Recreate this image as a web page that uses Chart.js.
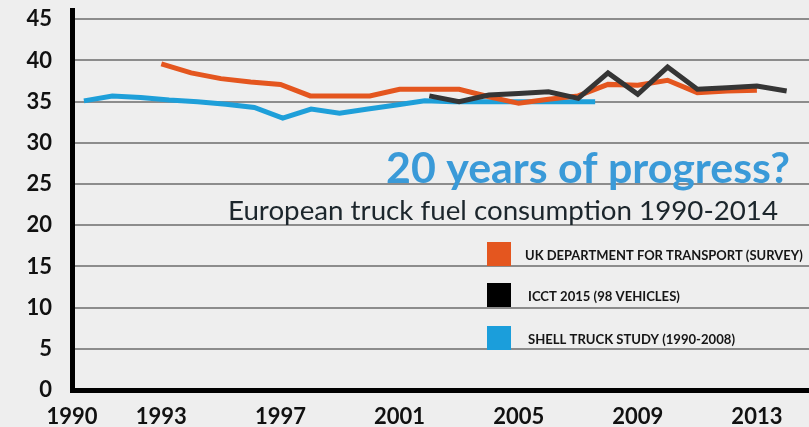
<!DOCTYPE html>
<html>
<head>
<meta charset="utf-8">
<script src="https://cdn.jsdelivr.net/npm/chart.js@4.4.1/dist/chart.umd.min.js"></script>
<style>
  html, body { margin: 0; padding: 0; background: #eeeeee; }
  #wrap { width: 809px; height: 427px; position: relative; }
</style>
</head>
<body>
<div id="wrap"><canvas id="fuelChart" width="809" height="427"></canvas></div>
<script>
// values (litres / 100 km)
const ukYears = [1993, 1994, 1995, 1996, 1997, 1998, 1999, 2000, 2001, 2002, 2003,
                 2004, 2005, 2006, 2007, 2008, 2009, 2010, 2011, 2012, 2013];
const ukValues = [39.6, 38.5, 37.8, 37.4, 37.1, 35.7, 35.7, 35.7, 36.5, 36.5, 36.5,
                  35.6, 34.8, 35.3, 35.7, 37.1, 37.0, 37.6, 36.1, 36.3, 36.4];

const icctYears = [2002, 2003, 2004, 2005, 2006, 2007, 2008, 2009, 2010, 2011, 2012, 2013, 2014];
const icctValues = [35.7, 35.0, 35.8, 36.0, 36.2, 35.4, 38.5, 35.9, 39.2, 36.5, 36.7, 36.9, 36.3];

const shellYears = [1990, 1991, 1992, 1993, 1994, 1995, 1996, 1997, 1998, 1999,
                    2000, 2001, 2002, 2003, 2004, 2005, 2006, 2007, 2008];
const shellValues = [35.1, 35.7, 35.5, 35.2, 35.0, 34.7, 34.3, 33.0, 34.1, 33.6,
                     34.1, 34.6, 35.1, 35.0, 35.0, 35.0, 35.0, 35.0, 35.0];

const seriesLabels = ['UK DEPARTMENT FOR TRANSPORT (SURVEY)', 'ICCT 2015 (98 VEHICLES)', 'SHELL TRUCK STUDY (1990-2008)'];
const xTickYears = [1990, 1993, 1997, 2001, 2005, 2009, 2013];
const yTickValues = [0, 5, 10, 15, 20, 25, 30, 35, 40, 45];

const titleText = '20 years of progress?';
const subtitleText = 'European truck fuel consumption 1990-2014';

const toPoints = (xs, ys) => xs.map((x, i) => ({ x: x, y: ys[i] }));

// pick a font size so the text spans the wanted width
function fitFont(ctx, text, weight, family, width) {
    let size = 10;
    ctx.font = `${weight} ${size}px ${family}`;
    const w = ctx.measureText(text).width;
    size = size * width / w;
    return `${weight} ${size.toFixed(2)}px ${family}`;
}

const overlayPlugin = {
    id: 'overlay',
    afterDraw(chart) {
        const ctx = chart.ctx;
        ctx.save();
        ctx.textBaseline = 'alphabetic';

        ctx.fillStyle = '#3a9ad8';
        ctx.font = fitFont(ctx, titleText, 'bold', 'Lato', 404);
        ctx.fillText(titleText, 386, 183);

        ctx.fillStyle = '#1c262c';
        ctx.font = fitFont(ctx, subtitleText, 'normal', 'Lato', 550);
        ctx.fillText(subtitleText, 228, 220);

        // legend
        const tops = [242, 283, 326];
        const textX = [525, 528, 528];
        const widths = [278, 152, 207];
        chart.data.datasets.forEach((ds, i) => {
            ctx.fillStyle = ds.backgroundColor;
            ctx.fillRect(487, tops[i], 24, 24);
            ctx.fillStyle = '#151515';
            ctx.font = fitFont(ctx, ds.label, 'bold', 'Lato', widths[i]);
            ctx.textBaseline = 'middle';
            ctx.fillText(ds.label, textX[i], tops[i] + 14);
        });
        ctx.restore();
    }
};

const lineStyle = {
    borderWidth: 5,
    pointRadius: 0,
    tension: 0,
    fill: false,
    borderJoinStyle: 'miter',
    borderCapStyle: 'butt'
};

const ctx = document.getElementById('fuelChart').getContext('2d');
const fuelChart = new Chart(ctx, {
    type: 'line',
    data: {
        datasets: [
            { ...lineStyle, label: seriesLabels[0], data: toPoints(ukYears, ukValues),
              borderColor: '#e4561f', backgroundColor: '#e4561f', order: 1, xAxisID: 'x' },
            { ...lineStyle, label: seriesLabels[1], data: toPoints(icctYears, icctValues),
              borderColor: '#353535', backgroundColor: '#000000', order: 0, xAxisID: 'x' },
            { ...lineStyle, label: seriesLabels[2], data: toPoints(shellYears, shellValues),
              borderColor: '#1e9fd9', backgroundColor: '#1b9edb', order: 2, xAxisID: 'xShell' }
        ]
    },
    options: {
        responsive: false,
        animation: false,
        layout: { padding: { top: 10, right: 0, left: 0, bottom: 0 } },
        plugins: {
            legend: { display: false },
            tooltip: { enabled: false }
        },
        scales: {
            x: {
                type: 'linear',
                min: 1990,
                max: 2014.75,
                grid: { display: false, drawTicks: false },
                border: { display: true, color: '#000000', width: 5 },
                afterBuildTicks: scale => { scale.ticks = xTickYears.map(v => ({ value: v })); },
                afterFit: scale => {
                    scale.height = 37;
                    scale.paddingLeft = 0;
                    scale.paddingRight = 0;
                },
                ticks: {
                    autoSkip: false,
                    maxRotation: 0,
                    padding: 14,
                    color: '#111111',
                    font: { family: 'Lato', weight: 'bold', size: 22 },
                    callback: v => String(v)
                }
            },
            // the shell study was drawn on its own, slightly narrower, year spacing
            xShell: {
                type: 'linear',
                display: false,
                min: 1989.58,
                max: 2015.53
            },
            y: {
                min: 0,
                max: 46.13,
                afterBuildTicks: scale => { scale.ticks = yTickValues.map(v => ({ value: v })); },
                afterFit: scale => {
                    scale.width = 72;
                    scale.paddingTop = 0;
                    scale.paddingBottom = 0;
                },
                grid: { color: '#8c8c8c', lineWidth: 2, drawTicks: false },
                border: { display: true, color: '#000000', width: 5 },
                ticks: {
                    padding: 20,
                    color: '#111111',
                    font: { family: 'Lato', weight: 'bold', size: 22 }
                }
            }
        }
    },
    plugins: [overlayPlugin]
});
</script>
</body>
</html>
